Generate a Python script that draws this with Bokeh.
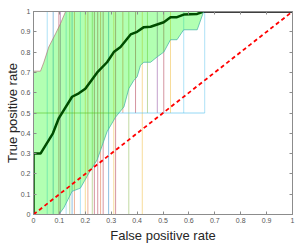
from bokeh.plotting import figure
from bokeh.models import Range1d, LinearAxis, FixedTicker, CustomJSTickFormatter
from bokeh.embed import file_html
from bokeh.resources import INLINE

# ---------------- data ----------------
ticks = [0, 0.1, 0.2, 0.3, 0.4, 0.5, 0.6, 0.7, 0.8, 0.9, 1.0]

roc_fpr = [0.0, 0.0, 0.027, 0.075, 0.098, 0.149, 0.175, 0.2, 0.246, 0.284, 0.31, 0.336,
           0.375, 0.40, 0.426, 0.452, 0.503, 0.529, 0.554, 0.58, 0.632, 0.657, 1.0]
roc_tpr = [0.0, 0.30, 0.30, 0.40, 0.475, 0.58, 0.597, 0.62, 0.70, 0.75, 0.80, 0.825,
           0.887, 0.90, 0.923, 0.925, 0.947, 0.972, 0.972, 0.985, 0.988, 1.0, 1.0]

upper_fpr = [0.0, 0.027, 0.04, 0.059, 0.085, 0.104, 0.124, 0.657]
upper_tpr = [0.706, 0.706, 0.75, 0.825, 0.89, 0.94, 1.0, 1.0]

lower_fpr = [0.0, 0.098, 0.117, 0.149, 0.181, 0.214, 0.246, 0.284, 0.317, 0.349, 0.368,
             0.387, 0.40, 0.413, 0.426, 0.452, 0.477, 0.503, 0.529, 0.554, 0.574, 0.58,
             0.632, 0.657]
lower_tpr = [0.0, 0.0, 0.033, 0.114, 0.13, 0.204, 0.27, 0.408, 0.48, 0.53, 0.62,
             0.66, 0.678, 0.735, 0.75, 0.75, 0.776, 0.80, 0.861, 0.861, 0.899, 0.91,
             0.91, 1.0]

vline_x = [0.053, 0.076, 0.098, 0.104, 0.126, 0.14, 0.149, 0.158, 0.181, 0.20, 0.21,
           0.227, 0.235, 0.248, 0.259, 0.269, 0.29, 0.31, 0.317, 0.345, 0.368, 0.394,
           0.42, 0.44, 0.478, 0.503, 0.529, 0.58, 0.661]
vline_lo = [0, 0, 0, 0, 0, 0, 0, 0, 0, 0, 0,
            0, 0, 0, 0, 0, 0, 0, 0, 0.5, 0, 0.5,
            0, 0.5, 0.5, 0.5, 0.5, 0.5, 0.5]
vline_hi = [1] * 29

box_x0 = [0.0, 0.317]
box_x1 = [0.317, 0.661]
box_y = [0.5, 0.5]

chance_x = [0, 1]
chance_y = [0, 1]

# ---------------- styles ----------------
BLUE, ORANGE, YELLOW, PURPLE, GREEN, LBLUE, DRED = (
    "#0072BD", "#D95319", "#EDB120", "#7E2F8E", "#77AC30", "#4DBEEE", "#A2142F")
vline_colors = [LBLUE, BLUE, DRED, PURPLE, LBLUE, GREEN, BLUE, ORANGE, LBLUE, YELLOW, ORANGE,
                GREEN, DRED, DRED, ORANGE, DRED, BLUE, YELLOW, DRED, ORANGE, GREEN, DRED,
                YELLOW, GREEN, PURPLE, DRED, YELLOW, LBLUE, LBLUE]
box_colors = [GREEN, LBLUE]

p = figure(width=300, height=245, output_backend="svg", toolbar_location=None,
           x_range=Range1d(0, 1), y_range=Range1d(0, 1),
           min_border_left=33, min_border_right=8, min_border_top=11, min_border_bottom=30)
p.grid.visible = False
p.outline_line_color = "#8c8c8c"
p.background_fill_color = "white"

# vertical confidence lines
p.segment(x0=vline_x, y0=vline_lo, x1=vline_x, y1=vline_hi,
          line_color=vline_colors, line_alpha=0.45, line_width=1)
p.segment(x0=box_x0, y0=box_y, x1=box_x1, y1=box_y,
          line_color=box_colors, line_alpha=0.6, line_width=1)

# mean ROC curve
p.line(roc_fpr, roc_tpr, line_color="#000000", line_width=2.5)

# confidence band fill (drawn on top, translucent)
band_x = upper_fpr + lower_fpr[::-1]
band_y = upper_tpr + lower_tpr[::-1]
p.patch(band_x, band_y, fill_color="#00ff00", fill_alpha=0.3, line_color=None)
p.line(upper_fpr, upper_tpr, line_color="#b07878", line_width=1, line_alpha=0.7)
p.line(lower_fpr, lower_tpr, line_color="#4fb8a8", line_width=1, line_alpha=0.8)

# chance line
p.line(chance_x, chance_y, line_color="#ff0000", line_width=1.8, line_dash="4 3")

fmt = CustomJSTickFormatter(code="return String(Math.round(tick*10)/10);")
for ax in (p.xaxis[0], p.yaxis[0]):
    ax.ticker = FixedTicker(ticks=ticks)
    ax.formatter = fmt
    ax.major_tick_in = 3
    ax.major_tick_out = 0
    ax.minor_tick_line_color = None
    ax.axis_line_color = "#8c8c8c"
    ax.major_tick_line_color = "#8c8c8c"
    ax.major_label_text_font = "Liberation Sans"
    ax.major_label_text_font_size = "7px"
    ax.major_label_text_color = "#555555"
    ax.major_label_standoff = 3
    ax.axis_label_text_font = "Liberation Sans"
    ax.axis_label_text_font_size = "13px"
    ax.axis_label_text_font_style = "normal"
    ax.axis_label_text_color = "#262626"
    ax.axis_label_standoff = 2

p.yaxis[0].axis_label_standoff = -2
p.xaxis.axis_label = "False positive rate"
p.yaxis.axis_label = "True positive rate"

for loc in ("above", "right"):
    ax = LinearAxis(ticker=FixedTicker(ticks=ticks),
                    formatter=CustomJSTickFormatter(code="return '';"))
    ax.major_tick_in = 3
    ax.major_tick_out = 0
    ax.minor_tick_line_color = None
    ax.axis_line_color = "#8c8c8c"
    ax.major_tick_line_color = "#8c8c8c"
    ax.major_label_text_font_size = "1px"
    ax.major_label_standoff = 0
    p.add_layout(ax, loc)

open("out.html", "w").write(file_html(p, INLINE))
